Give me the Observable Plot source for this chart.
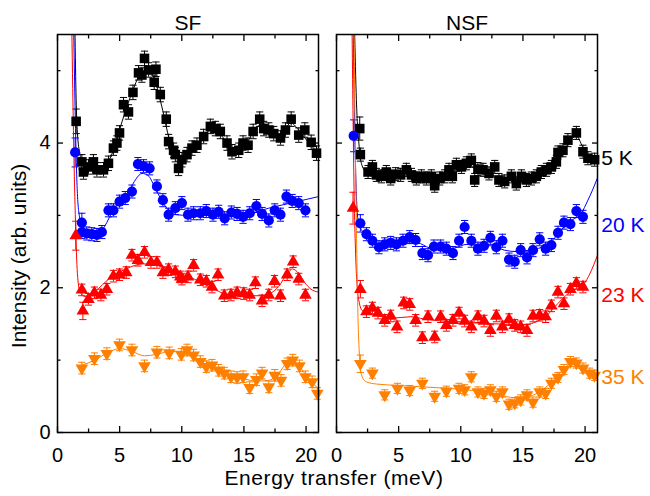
<!DOCTYPE html>
<html><head><meta charset="utf-8">
<script src="https://cdn.jsdelivr.net/npm/d3@7"></script>
<script src="https://cdn.jsdelivr.net/npm/@observablehq/plot@0.6"></script>
<style>body{margin:0;background:#fff}#chart{width:650px;height:496px}</style>
</head><body><div id="chart"></div>
<script>
// ---------- categories / labels ----------
const panels = ["SF", "NSF"];
const temps = ["5 K", "20 K", "23 K", "35 K"];
const colors = ["#000000", "#0000ff", "#ff0000", "#ff8000"];
const xMajor = [0, 5, 10, 15, 20];
const xMinor = [2.5, 7.5, 12.5, 17.5];
const yMajor = [0, 2, 4];
const yMinor = [1, 3, 5];
const xTitle = "Energy transfer (meV)";
const yTitle = "Intensity (arb. units)";
const labelX = 21.3;
const labelY = [3.79, 2.87, 1.9, 0.77];

// ---------- SF data [x, y, (err)] ----------
const sf5K = [[1.5,4.3,0.17],[1.96,3.74],[2.09,3.6],[2.49,3.67],[2.89,3.74],[3.17,3.63],[3.7,3.63],[4.1,3.72],[4.5,3.93],[4.78,4.0],[4.99,4.14],[5.31,4.53],[5.71,4.43],[6.07,4.7],[6.52,4.97],[6.79,4.94],[7.0,5.17],[7.33,5.01],[7.78,4.84],[7.92,5.02],[8.27,4.67],[8.75,4.33],[8.94,4.02],[9.34,3.9],[9.48,3.84],[9.74,3.65],[10.01,3.77],[10.42,3.84],[10.82,3.93],[11.22,3.97],[11.76,4.09],[12.3,4.23],[12.7,4.2],[13.1,4.16],[13.64,4.0],[14.04,3.88],[14.58,3.9],[14.93,4.0],[15.33,3.97],[15.74,4.16],[16.27,4.33],[16.59,4.2],[17.0,4.18],[17.4,4.13],[17.94,4.07],[18.34,4.18],[18.8,4.33],[19.41,4.11],[19.9,4.18],[20.41,4.01],[20.84,3.86]];
const sf20K = [[1.42,3.87,0.2],[1.96,2.9,0.13],[1.96,2.77],[2.36,2.75],[2.76,2.74],[3.17,2.73],[3.57,2.77],[4.1,3.07],[4.5,3.07],[4.99,3.19],[5.45,3.24],[5.99,3.33],[6.47,3.71],[6.92,3.68],[7.41,3.65],[8.0,3.4],[8.48,3.21],[8.94,3.01],[9.48,3.1],[10.01,3.17],[10.5,3.01],[10.95,3.03],[11.49,3.03],[11.97,3.06],[12.51,3.01],[12.97,3.05],[13.45,2.96],[13.99,3.04],[14.45,3.02],[14.93,2.98],[15.47,3.03],[16.0,3.13],[16.46,3.02],[17.0,2.93],[17.48,3.07],[17.94,3.01],[18.42,3.26],[18.88,3.2],[19.41,3.17],[19.95,3.07]];
const sf23K = [[1.47,2.72,0.2],[1.96,1.97],[2.04,1.68,0.12],[2.49,1.84],[2.97,1.93],[3.49,1.9],[3.97,1.98],[4.5,2.16],[4.99,2.18],[5.53,2.21],[5.99,2.45],[6.47,2.38],[7.0,2.49],[7.52,2.35],[8.0,2.35],[8.48,2.21],[8.94,2.25],[9.48,2.22],[9.88,2.15],[10.01,2.12],[10.5,2.15],[10.95,2.31],[11.49,2.11],[11.97,2.09],[12.43,2.01],[12.92,2.18],[13.42,1.89],[13.96,1.9],[14.45,1.93],[14.98,1.92],[15.46,1.9],[15.92,2.07],[16.46,1.82],[17.0,1.9],[17.46,2.09],[17.94,1.89],[18.48,2.18],[18.96,2.36],[19.41,2.12],[19.95,1.9]];
const sf35K = [[1.96,0.89],[2.97,1.02],[3.97,1.09],[4.99,1.21],[5.99,1.14],[7.0,0.92],[8.0,1.11],[8.99,1.1],[9.96,1.08],[10.42,1.14],[10.95,1.07],[11.49,0.98],[11.97,0.91],[12.43,0.93],[12.97,0.86],[13.42,0.82],[13.96,0.77],[14.45,0.76],[14.93,0.77],[15.46,0.62],[16.0,0.73],[16.46,0.82],[17.0,0.63],[17.48,0.79],[17.99,0.72],[18.48,0.95],[18.93,1.0],[19.47,0.92],[19.95,0.77],[20.49,0.7],[20.9,0.54]];

// ---------- SF fits [x, y] ----------
const sf5KFit = [[1.4,5.6],[1.5,4.6],[1.6,4.15],[1.8,3.85],[2.1,3.7],[2.6,3.65],[3.2,3.64],[3.8,3.68],[4.5,3.9],[5.2,4.3],[6.0,4.7],[6.8,4.98],[7.3,5.0],[7.8,4.88],[8.4,4.5],[9.0,4.05],[9.5,3.82],[10.0,3.76],[10.6,3.85],[11.3,4.0],[12.0,4.15],[12.6,4.18],[13.3,4.08],[14.0,3.92],[14.6,3.92],[15.3,4.02],[16.0,4.22],[16.5,4.25],[17.2,4.15],[17.8,4.12],[18.3,4.2],[18.8,4.28],[19.3,4.2],[20.0,4.05],[20.6,3.93],[21.0,3.85]];
const sf20KFit = [[1.3,5.6],[1.45,4.2],[1.6,3.3],[1.8,2.95],[2.1,2.78],[2.6,2.72],[3.2,2.72],[3.8,2.85],[4.5,3.08],[5.2,3.22],[5.8,3.35],[6.3,3.5],[6.8,3.58],[7.3,3.55],[7.8,3.4],[8.4,3.2],[9.0,3.06],[9.6,3.01],[10.5,3.0],[12.0,3.0],[14.0,3.01],[15.5,3.03],[17.0,3.1],[19.0,3.18],[21.0,3.26]];
const sf23KFit = [[1.15,5.6],[1.3,4.0],[1.45,2.9],[1.6,2.2],[1.8,1.95],[2.2,1.88],[3.0,1.95],[4.2,2.13],[5.5,2.26],[6.9,2.33],[8.0,2.31],[9.0,2.26],[10.0,2.19],[11.0,2.12],[12.3,2.01],[13.6,1.91],[15.0,1.89],[16.3,1.89],[17.2,1.93],[17.8,2.02],[18.5,2.2],[18.9,2.26],[19.4,2.2],[19.9,2.07],[20.4,1.98],[21.0,1.94]];
const sf35KFit = [[1.95,0.93],[3.0,1.0],[4.0,1.1],[5.0,1.16],[6.0,1.12],[7.0,1.06],[8.0,1.08],[9.0,1.12],[10.0,1.11],[11.0,1.02],[12.0,0.92],[13.0,0.85],[14.0,0.78],[15.0,0.74],[16.0,0.71],[17.0,0.72],[17.7,0.8],[18.4,0.95],[18.9,0.99],[19.5,0.9],[20.2,0.75],[21.0,0.6]];

// ---------- NSF data ----------
const nsf5K = [[1.87,4.2,0.16],[1.92,3.84],[2.54,3.6],[2.89,3.67],[3.21,3.56],[3.61,3.54],[4.01,3.6],[4.36,3.51],[4.76,3.57],[5.16,3.56],[5.62,3.63],[6.03,3.56],[6.43,3.51],[6.83,3.54],[7.23,3.51],[7.63,3.54],[7.9,3.41],[8.3,3.51],[8.7,3.54],[9.05,3.63],[9.32,3.54],[9.65,3.7],[10.05,3.67],[10.45,3.72],[10.85,3.76],[11.12,3.49],[11.38,3.64],[11.79,3.63],[12.27,3.58],[12.73,3.67],[13.07,3.49],[13.53,3.47],[14.07,3.54],[14.47,3.44],[14.88,3.54],[15.28,3.49],[15.68,3.51],[16.08,3.54],[16.48,3.6],[16.89,3.63],[17.29,3.67],[17.69,3.74],[17.82,3.87],[18.22,3.9],[18.62,4.04],[19.3,4.14],[19.83,3.88],[20.23,3.79],[20.77,3.77]];
const nsf20K = [[1.38,4.1,0.22],[1.92,2.89,0.12],[2.41,2.74],[2.89,2.65],[3.42,2.56],[3.88,2.6],[4.36,2.62],[4.82,2.6],[5.35,2.65],[5.89,2.7],[6.37,2.66],[6.91,2.48],[7.36,2.45],[7.84,2.57],[8.38,2.57],[8.84,2.54],[9.37,2.48],[9.86,2.65],[10.31,2.84],[10.85,2.65],[11.38,2.54],[11.87,2.58],[12.38,2.69],[12.86,2.56],[13.35,2.65],[13.88,2.39],[14.34,2.36],[14.82,2.52],[15.33,2.42],[15.81,2.52],[16.35,2.67],[16.83,2.54],[17.29,2.59],[17.82,2.76],[18.3,2.9],[18.82,2.88],[19.3,3.06],[19.83,2.98]];
const nsf23K = [[1.33,3.1,0.22],[1.92,1.98,0.12],[2.41,1.67],[2.89,1.72],[3.34,1.65],[3.88,1.55],[4.36,1.61],[4.87,1.46],[5.41,1.79],[5.89,1.77],[6.37,1.55],[6.91,1.31],[7.36,1.6],[7.9,1.32],[8.38,1.6],[8.84,1.48],[9.37,1.55],[9.86,1.65],[10.31,1.54],[10.85,1.46],[11.38,1.6],[11.87,1.54],[12.38,1.41],[12.86,1.61],[13.35,1.46],[13.88,1.56],[14.34,1.48],[14.82,1.46],[15.33,1.41],[15.81,1.61],[16.35,1.62],[16.83,1.6],[17.29,1.75],[17.82,1.94],[18.3,1.78],[18.82,1.98],[19.3,2.06],[19.83,2.01]];
const nsf35K = [[1.92,0.95,0.12],[2.89,0.82],[3.88,0.52],[4.9,0.61],[5.89,0.58],[6.91,0.68],[7.9,0.5],[8.84,0.57],[9.86,0.61],[10.31,0.59],[10.85,0.77],[11.38,0.56],[11.87,0.54],[12.38,0.59],[12.86,0.5],[13.35,0.56],[13.88,0.39],[14.34,0.41],[14.82,0.45],[15.33,0.52],[15.81,0.42],[16.35,0.56],[16.83,0.54],[17.29,0.68],[17.82,0.76],[18.3,0.87],[18.82,0.98],[19.3,0.96],[19.83,0.89],[20.37,0.82],[20.77,0.79]];

// ---------- NSF fits ----------
const nsf5KFit = [[1.45,5.6],[1.6,4.6],[1.8,4.0],[2.0,3.72],[2.4,3.6],[3.5,3.56],[5.0,3.55],[7.0,3.53],[8.5,3.55],[9.5,3.62],[10.5,3.68],[11.2,3.65],[12.0,3.6],[13.0,3.52],[14.0,3.49],[15.0,3.5],[16.0,3.53],[17.0,3.62],[18.0,3.8],[18.7,4.0],[19.3,4.1],[19.8,3.95],[20.3,3.82],[21.0,3.78]];
const nsf20KFit = [[1.35,5.6],[1.5,3.9],[1.62,3.2],[1.75,2.92],[2.2,2.75],[3.0,2.62],[4.0,2.6],[5.5,2.62],[6.5,2.62],[7.5,2.55],[8.5,2.53],[9.5,2.55],[10.5,2.6],[11.5,2.58],[12.5,2.58],[13.5,2.52],[14.5,2.5],[15.5,2.52],[16.5,2.56],[17.5,2.68],[18.3,2.84],[19.0,2.94],[19.7,3.03],[20.2,3.2],[20.6,3.35],[21.0,3.52]];
const nsf23KFit = [[1.25,5.6],[1.4,3.5],[1.6,2.2],[1.8,1.82],[2.1,1.68],[3.0,1.63],[4.5,1.58],[6.0,1.6],[7.0,1.57],[8.5,1.54],[10.0,1.53],[11.5,1.51],[13.0,1.5],[14.5,1.49],[15.5,1.5],[16.3,1.55],[17.0,1.63],[17.8,1.78],[18.5,1.9],[19.3,1.99],[19.9,2.05],[20.4,2.2],[21.0,2.45]];
const nsf35KFit = [[1.4,5.6],[1.55,3.5],[1.7,1.8],[1.85,1.05],[2.0,0.8],[2.4,0.7],[3.2,0.67],[5.0,0.65],[7.0,0.63],[9.0,0.61],[11.0,0.58],[12.5,0.55],[13.5,0.5],[14.5,0.48],[15.3,0.49],[16.0,0.53],[16.8,0.62],[17.5,0.73],[18.3,0.88],[18.9,0.96],[19.4,0.95],[20.0,0.87],[20.5,0.82],[21.0,0.79]];

const defaultErr = {SF: [0.1, 0.09, 0.08, 0.08], NSF: [0.09, 0.09, 0.08, 0.07]};

const series = [
  {panel: "SF", t: 0, pts: sf5K, fit: sf5KFit},
  {panel: "SF", t: 1, pts: sf20K, fit: sf20KFit},
  {panel: "SF", t: 2, pts: sf23K, fit: sf23KFit},
  {panel: "SF", t: 3, pts: sf35K, fit: sf35KFit},
  {panel: "NSF", t: 0, pts: nsf5K, fit: nsf5KFit},
  {panel: "NSF", t: 1, pts: nsf20K, fit: nsf20KFit},
  {panel: "NSF", t: 2, pts: nsf23K, fit: nsf23KFit},
  {panel: "NSF", t: 3, pts: nsf35K, fit: nsf35KFit}
];

// ---------- symbols ----------
const triangleDown = {
  draw(context, size) {
    const y = -Math.sqrt(size / (Math.sqrt(3) * 3));
    context.moveTo(0, -y * 2);
    context.lineTo(-Math.sqrt(3) * y, y);
    context.lineTo(Math.sqrt(3) * y, y);
    context.closePath();
  }
};
const capSymbol = {
  draw(context, size) {
    const r = Math.sqrt(size / Math.PI);
    context.moveTo(-r, 0);
    context.lineTo(r, 0);
  }
};
const symbols = ["square", "circle", "triangle", triangleDown];
const symbolR = [5.4, 5.1, 4.7, 4.7];

// ---------- marks ----------
const errMarks = [], lineMarks = [], dotMarks = [];
for (const s of series) {
  const c = colors[s.t];
  const rows = s.pts.map(([x, y, e]) => ({panel: s.panel, x, y, e: e ?? defaultErr[s.panel][s.t]}));
  const fitRows = s.fit.map(([x, y]) => ({panel: s.panel, x, y}));
  errMarks.push(
    Plot.ruleX(rows, {fx: "panel", x: "x", y1: d => d.y - d.e, y2: d => d.y + d.e, stroke: c, strokeWidth: 1}),
    Plot.dot(rows, {fx: "panel", x: "x", y: d => d.y + d.e, symbol: capSymbol, r: 3.6, stroke: c, fill: "none", strokeWidth: 1}),
    Plot.dot(rows, {fx: "panel", x: "x", y: d => d.y - d.e, symbol: capSymbol, r: 3.6, stroke: c, fill: "none", strokeWidth: 1})
  );
  lineMarks.push(Plot.line(fitRows, {fx: "panel", x: "x", y: "y", stroke: c, strokeWidth: 1, curve: "monotone-x", clip: true}));
  dotMarks.push(Plot.dot(rows, {fx: "panel", x: "x", y: "y", symbol: symbols[s.t], r: symbolR[s.t], fill: c, stroke: "none"}));
}

const labelRows = temps.map((t, i) => ({panel: "NSF", t, x: labelX, y: labelY[i], c: colors[i]}));

const plot = Plot.plot({
  width: 650,
  height: 496,
  marginLeft: 57,
  marginRight: 52,
  marginTop: 34,
  marginBottom: 64,
  style: {fontFamily: "'Liberation Sans', Arial, sans-serif", fontSize: "20px", background: "#ffffff", color: "#000000"},
  fx: {domain: panels, paddingInner: 0.064, paddingOuter: 0, label: null},
  x: {domain: [0, 21]},
  y: {domain: [0, 5.5]},
  marks: [
    ...errMarks,
    ...lineMarks,
    ...dotMarks,
    Plot.text(labelRows, {fx: "panel", x: "x", y: "y", text: "t", fill: "c", textAnchor: "start", fontSize: 21}),
    Plot.frame({stroke: "#000", strokeWidth: 1.5}),
    Plot.axisFx({anchor: "top", tickSize: 0, tickPadding: 5, fontSize: 21, label: null}),
    Plot.axisX({ticks: xMajor, tickSize: 0, tickPadding: 15, fontSize: 20, tickFormat: d => String(d), label: null}),
    Plot.axisX({anchor: "bottom", ticks: xMajor, tickSize: -6, fill: "none", strokeWidth: 1.3, label: null}),
    Plot.axisX({anchor: "bottom", ticks: xMinor, tickSize: -3.5, fill: "none", strokeWidth: 1.3, label: null}),
    Plot.axisX({anchor: "top", ticks: xMajor, tickSize: -6, fill: "none", strokeWidth: 1.3, label: null}),
    Plot.axisX({anchor: "top", ticks: xMinor, tickSize: -3.5, fill: "none", strokeWidth: 1.3, label: null}),
    Plot.axisY({ticks: yMajor, tickSize: 0, tickPadding: 7, fontSize: 20, tickFormat: d => String(d), label: null}),
    Plot.axisY({anchor: "left", ticks: yMajor, tickSize: -6, fill: "none", strokeWidth: 1.3, label: null, facetAnchor: null}),
    Plot.axisY({anchor: "left", ticks: yMinor, tickSize: -3.5, fill: "none", strokeWidth: 1.3, label: null, facetAnchor: null}),
    Plot.axisY({anchor: "right", ticks: yMajor, tickSize: -6, fill: "none", strokeWidth: 1.3, label: null, facetAnchor: null}),
    Plot.axisY({anchor: "right", ticks: yMinor, tickSize: -3.5, fill: "none", strokeWidth: 1.3, label: null, facetAnchor: null})
  ]
});

const svg = d3.select(plot);
svg.append("text")
  .attr("x", 334).attr("y", 485)
  .attr("text-anchor", "middle")
  .style("font-size", "21px").style("letter-spacing", "0.6px")
  .attr("fill", "#000")
  .text(xTitle);
svg.append("text")
  .attr("transform", "translate(26,256) rotate(-90)")
  .attr("text-anchor", "middle")
  .style("font-size", "21px")
  .attr("fill", "#000")
  .text(yTitle);

document.getElementById("chart").appendChild(plot);
</script>
</body></html>
